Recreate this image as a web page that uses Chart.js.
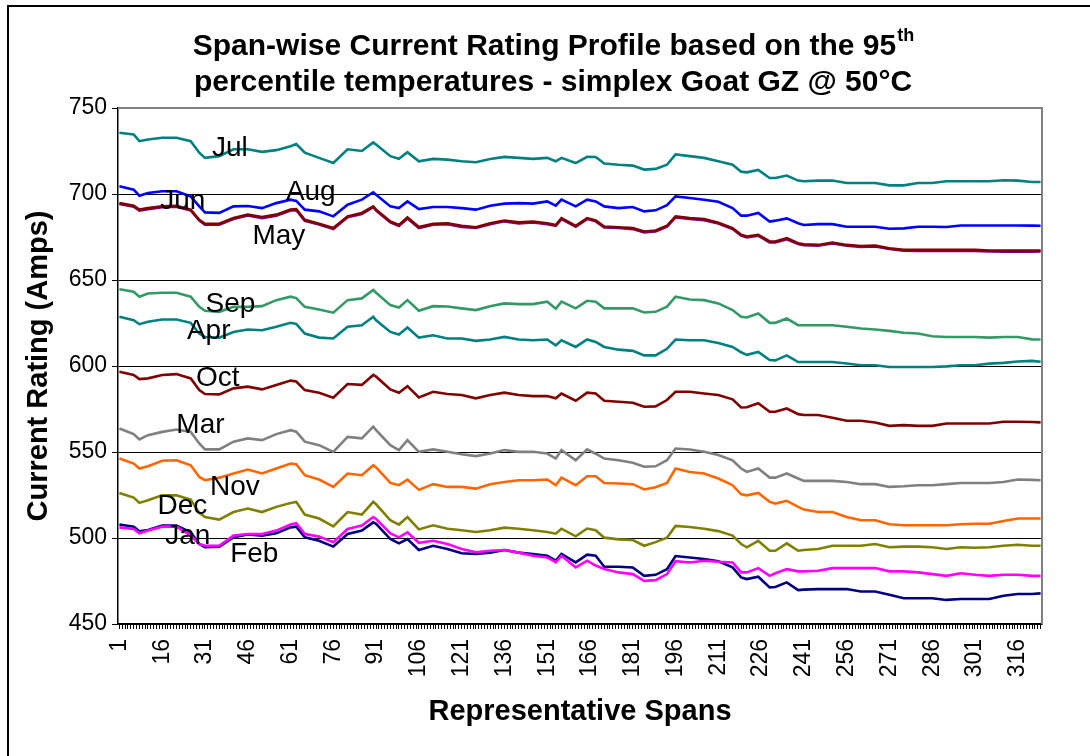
<!DOCTYPE html>
<html>
<head>
<meta charset="utf-8">
<script src="https://cdn.jsdelivr.net/npm/chart.js@4/dist/chart.umd.min.js"></script>
<style>
  html, body { margin: 0; padding: 0; background: #fff; }
  #chart { display: block; }
</style>
</head>
<body>
<canvas id="chart" width="1090" height="756"></canvas>
<script>
// representative span numbers at which values were read
const spans = [
  1, 6, 8, 11, 16, 21, 26, 29, 31, 36, 41,
  46, 51, 56, 61, 63, 66, 71, 76, 81, 86, 90,
  91, 96, 99, 102, 106, 111, 116, 121, 126, 131, 136,
  141, 146, 151, 154, 156, 161, 165, 168, 171, 176, 181,
  185, 189, 193, 196, 201, 206, 211, 216, 219, 221, 225,
  229, 231, 235, 239, 241, 246, 251, 256, 261, 266, 271,
  276, 281, 286, 291, 296, 301, 306, 311, 316, 321, 324
];
const tickLabels = [1, 16, 31, 46, 61, 76, 91, 106, 121, 136, 151, 166, 181, 196, 211, 226, 241, 256, 271, 286, 301, 316];
const yTicks = [450, 500, 550, 600, 650, 700, 750];

const months = ['Jan', 'Feb', 'Mar', 'Apr', 'May', 'Jun', 'Jul', 'Aug', 'Sep', 'Oct', 'Nov', 'Dec'];

const jan = [
  507.8, 506.6, 503.9, 504.7, 507.2, 507.2, 503.3, 496.5, 494.6, 495, 500.4,
  502, 501.4, 502.7, 506.2, 506.6, 500.4, 498.4, 495, 502.3, 504.3, 509.1,
  508.2, 499.4, 496.9, 499.4, 493, 495.5, 493.6, 491.1, 490.7, 491.5, 493,
  491.5, 490.7, 489.7, 486.8, 490.7, 485.8, 490.3, 489.7, 483.3, 483.3, 482.9,
  478, 478.6, 481.9, 489.5, 488.7, 487.8, 486.5, 482.9, 477.1, 476.1, 477.5,
  471.3, 471.5, 474.2, 469.7, 470, 470.3, 470.3, 470.3, 468.9, 468.9, 467,
  465, 465, 465, 464, 464.5, 464.5, 464.5, 466.4, 467.4, 467.4, 467.8
];
const feb = [
  506.2, 505.2, 502.7, 504.3, 506.6, 506.6, 501.4, 496.5, 495.5, 495.5, 501.4,
  502.3, 502.3, 504.3, 507.8, 508.6, 502.3, 500.8, 497.5, 505.2, 507.2, 512.2,
  511.1, 502.7, 500.4, 503.3, 497.2, 498.4, 496.5, 493.6, 491.7, 492.6, 493,
  491.5, 489.7, 488.7, 485.8, 489.7, 482.9, 486.8, 484, 481.9, 480, 479,
  475.1, 475.5, 479, 486.5, 485.8, 486.8, 486.2, 485.8, 480, 480, 482.5,
  478, 479.5, 481.9, 480.6, 480.6, 481, 482.5, 482.5, 482.5, 482.5, 480.6,
  480.6, 480, 479, 478, 479.5, 478.6, 478, 478.6, 478.6, 478, 478
];
const mar = [
  563.7, 560.4, 557.3, 559.8, 561.7, 563.1, 561.7, 555, 551.5, 551.5, 556,
  557.9, 556.9, 560.4, 562.7, 561.8, 556, 554, 550.1, 558.8, 557.9, 564.7,
  562.7, 554, 551.1, 556.9, 550.1, 551.5, 550.1, 548.7, 547.6, 549.1, 551.1,
  550.1, 550.1, 549.1, 546.2, 551.1, 545.2, 551.5, 549, 546.2, 545.2, 543.7,
  541.4, 541.7, 545.2, 552, 551.5, 550.1, 548.2, 545.2, 540.4, 538.4, 540.4,
  535.1, 535.1, 537.5, 534.6, 533.2, 533.2, 533.2, 532.6, 531.3, 531.3, 529.7,
  530.1, 530.7, 530.7, 531.3, 532, 532, 532, 532.6, 534, 533.8, 533.6
];
const apr = [
  628.6, 626.6, 624.3, 625.7, 627, 627, 625.1, 618.9, 616.9, 616.5, 619.8,
  621.2, 620.8, 622.8, 625.1, 624.5, 618.9, 616.5, 616, 622.8, 623.7, 628.6,
  626.6, 619.8, 618.3, 622.4, 616.5, 617.9, 616, 616, 614.6, 615.4, 616.9,
  615.4, 615, 615.4, 612, 615, 611.1, 615.4, 614, 611.1, 609.5, 608.8,
  606.2, 606.2, 610, 615.4, 615, 615, 613.4, 611.1, 608, 606.5, 608.2,
  603.5, 603.3, 606.2, 602.3, 602.3, 602.3, 602.3, 601.5, 600.4, 600.4, 599.4,
  599.4, 599.4, 599.4, 599.8, 600.4, 600.4, 601.4, 601.8, 602.6, 603, 602.5
];
const may = [
  694.2, 692.6, 690.3, 691.2, 692.3, 692.6, 690.4, 684.5, 682.1, 682.2, 685.4,
  687.5, 686, 687.4, 690.4, 690.6, 684.4, 682.2, 679.6, 686.5, 688.4, 692.3,
  690.3, 683.5, 681.4, 685.8, 680.2, 682.1, 682.5, 680.9, 680.2, 682.4, 684.1,
  682.9, 683.5, 682.4, 681.5, 685.4, 681, 685.4, 684.1, 680.5, 680.2, 679.6,
  677.7, 678.2, 681, 686.4, 685.5, 684.8, 682.8, 679.6, 675.8, 674.7, 675.8,
  671.8, 671.9, 673.7, 670.9, 670.2, 669.9, 671.2, 669.9, 669.2, 669.5, 668,
  667, 666.9, 667, 666.9, 667, 666.9, 666.6, 666.5, 666.6, 666.5, 666.6
];
const jun = [
  694.7, 693.2, 690.9, 691.8, 692.8, 693.2, 690.9, 685, 682.7, 682.7, 686,
  688, 686.6, 688, 690.9, 691.2, 685, 682.7, 680.2, 687, 689, 692.8,
  690.9, 684, 682, 686.3, 680.8, 682.7, 683, 681.5, 680.7, 683, 684.6,
  683.5, 684, 683, 682, 686, 681.5, 686, 684.6, 681.1, 680.7, 680.2,
  678.2, 678.8, 681.5, 687, 686, 685.4, 683.3, 680.2, 676.3, 675.3, 676.3,
  672.4, 672.4, 674.3, 671.4, 670.8, 670.4, 671.8, 670.4, 669.8, 670, 668.5,
  667.5, 667.5, 667.5, 667.5, 667.5, 667.5, 667.1, 667.1, 667.1, 667.1, 667.1
];
const jul = [
  735.6, 734.6, 730.7, 731.7, 732.7, 732.7, 730.7, 724, 721, 722, 726,
  726, 724.5, 725.5, 727.8, 729, 724, 721, 718, 726, 725, 730,
  728.8, 722, 720.5, 724.3, 719, 720.4, 720, 719, 718.5, 720.4, 721.6,
  721, 720.4, 721, 719, 721, 718, 721.6, 721.5, 717.7, 717, 716.5,
  714.2, 714.6, 717, 723, 722, 721, 719, 717, 713, 712.6, 714,
  709.3, 709.3, 710.7, 707.8, 707.4, 707.8, 707.8, 706.4, 706.4, 706.4, 705,
  705, 706.4, 706.4, 707.4, 707.4, 707.4, 707.4, 708, 707.8, 707, 707
];
const aug = [
  704.5, 702.5, 699, 700.6, 701.6, 701.6, 698.6, 692.8, 689.3, 689, 692.8,
  693, 691.8, 694.7, 696.7, 696, 690.9, 689.9, 687, 693.8, 696.7, 701,
  699.6, 692.8, 691.8, 695.7, 691.2, 692.4, 692.4, 691.8, 690.9, 693.2, 694.4,
  694.7, 694.4, 695.7, 693.2, 696.7, 692.8, 696.7, 695.7, 692.8, 691.8, 692.4,
  689.9, 690.5, 693.5, 698.6, 697.7, 696.7, 695.5, 691.8, 687.4, 687.4, 689,
  684, 684.5, 685.8, 683, 682, 682.5, 682.5, 681, 681, 681, 679.8,
  680, 681, 681, 680.8, 681.7, 681.7, 681.7, 681.7, 681.7, 681.6, 681.5
];
const sep = [
  644.6, 643.2, 640.3, 642.2, 642.6, 642.6, 640.3, 634.4, 632.1, 631.5, 634.4,
  634.4, 634.8, 638.3, 640.3, 639.5, 634.4, 632.9, 631, 638.3, 639.3, 644.2,
  642.6, 635.4, 634, 638.3, 632.1, 634.8, 634.6, 633.5, 632.5, 634.8, 636.4,
  636, 636, 637.4, 633.3, 637.4, 633.5, 637.9, 637.4, 633.5, 633.5, 633.5,
  631.1, 631.5, 634.5, 640.3, 638.7, 638.3, 636.4, 632.5, 628.6, 628.2, 630.5,
  625.1, 625.1, 627.6, 623.7, 623.7, 623.7, 623.7, 622.8, 621.8, 621.2, 620.4,
  619.3, 618.9, 617.3, 616.9, 616.9, 616.9, 616.5, 616.9, 616.9, 615.5, 615.4
];
const oct = [
  596.7, 594.8, 592.4, 592.8, 594.8, 595.3, 592.8, 586, 583.7, 583.5, 587,
  588, 586.4, 589, 591.5, 591, 586, 584.5, 581.6, 589.5, 589, 594.8,
  593.8, 586.4, 584.5, 588.3, 581.7, 585, 583.7, 583.1, 581.2, 583.1, 584.5,
  583.1, 582.5, 582.5, 581.2, 584, 579.8, 584.5, 584, 579.8, 579.2, 578.6,
  576.3, 576.5, 580.2, 585, 585, 584, 583.1, 580.6, 575.9, 576, 578.3,
  573.4, 573.4, 575.3, 572, 571.5, 571.5, 569.9, 568.2, 568.2, 567.2, 565.2,
  565.6, 565.2, 565.2, 566.6, 566.6, 566.6, 566.6, 567.6, 567.6, 567.4, 567.2
];
const nov = [
  546.2, 543.3, 540.4, 541.7, 544.9, 545.2, 542.3, 535.5, 533.6, 535.1, 537.5,
  539.8, 537.5, 540.4, 543.3, 542.9, 536.5, 534, 529.7, 537.5, 536.5, 542.3,
  541, 532, 530.7, 534, 528, 531.3, 529.7, 529.7, 528.7, 531.3, 532.6,
  533.6, 533.6, 534, 530.7, 535.1, 530.7, 535.9, 535.9, 532, 531.7, 531.3,
  528.2, 529.5, 532, 540.4, 538.4, 537.5, 534.6, 530.7, 525.4, 524.8, 526.2,
  521, 520, 521.6, 518.1, 516.5, 515.1, 515.1, 512.2, 510.3, 510.3, 508,
  507.4, 507.4, 507.4, 507.4, 508, 508.3, 508.3, 509.9, 511.3, 511.3, 511.3
];
const dec = [
  526.2, 523.5, 520.4, 521.9, 524.8, 524.8, 522.3, 514.6, 512.2, 510.7, 515.1,
  517.1, 515.1, 518.1, 520.4, 521, 513.6, 511.3, 506.8, 515.1, 513.6, 521,
  519.6, 510.3, 507.8, 512.2, 505, 507.4, 505.4, 504.5, 503.5, 504.5, 506,
  505.4, 504.5, 503.5, 502.5, 505.4, 501, 505.5, 504.5, 500.2, 499.2, 498.8,
  495.5, 497.6, 500.2, 507, 506.4, 505.4, 504, 501.4, 496.5, 494.6, 498.4,
  492.6, 492.6, 496.9, 492.6, 493, 493.6, 495.5, 495.5, 495.5, 496.5, 494.6,
  495, 495, 494.6, 493.6, 494.6, 494.3, 494.6, 495.5, 496.1, 495.5, 495.5
];

// where each month name sits, in span / amps
const labelSpans  = [25.0, 48.3, 29.4, 32.3, 56.9, 23.2, 39.7, 68.1, 39.9, 35.5, 41.5, 23.1];
const labelValues = [501.2, 490.4, 565.7, 619.9, 675.6, 695.9, 726.7, 701.2, 636.0, 593.0, 529.7, 518.6];

const series = [jan, feb, mar, apr, may, jun, jul, aug, sep, oct, nov, dec];
const colors = ['#000080', '#ff00ff', '#808080', '#008080', '#800080', '#800000',
                '#008080', '#0000ff', '#339966', '#800000', '#ff6600', '#808000'];

const FONT = '"Liberation Sans", Arial, sans-serif';

const allSpans = [];
for (let s = 1; s <= 324; s++) allSpans.push(s);

const chartDecor = {
  id: 'chartDecor',
  afterDraw(chart) {
    const { ctx, chartArea: a, scales: { x, y } } = chart;
    ctx.save();
    // outer frame (left and top only are in view)
    ctx.fillStyle = '#000';
    ctx.fillRect(7, 5, 1083, 2);
    ctx.fillRect(7, 5, 2, 751);

    // plot area border, top and right
    ctx.strokeStyle = '#808080';
    ctx.lineWidth = 2;
    ctx.beginPath();
    ctx.moveTo(a.left, a.top);
    ctx.lineTo(a.right, a.top);
    ctx.lineTo(a.right, a.bottom);
    ctx.stroke();

    // title with superscript
    ctx.fillStyle = '#000';
    ctx.textBaseline = 'middle';
    ctx.textAlign = 'left';
    const line1 = 'Span-wise Current Rating Profile based on the 95';
    const line2 = 'percentile temperatures - simplex Goat GZ @ 50\u00B0C';
    ctx.font = 'bold 30px ' + FONT;
    const w1 = ctx.measureText(line1).width;
    const w2 = ctx.measureText(line2).width;
    ctx.font = 'bold 18px ' + FONT;
    const ws = ctx.measureText('th').width;
    const cx = 553;
    const x1 = cx - (w1 + ws) / 2;
    ctx.font = 'bold 30px ' + FONT;
    ctx.fillText(line1, x1, 47);
    ctx.fillText(line2, cx - w2 / 2, 83);
    ctx.font = 'bold 18px ' + FONT;
    ctx.fillText('th', x1 + w1 + 1, 36);

    // month labels
    ctx.font = '28px ' + FONT;
    ctx.textAlign = 'center';
    months.forEach((m, i) => {
      ctx.fillText(m, x.getPixelForValue(labelSpans[i]), y.getPixelForValue(labelValues[i]));
    });
    ctx.restore();
  }
};

new Chart(document.getElementById('chart'), {
  type: 'line',
  data: {
    datasets: series.map((vals, i) => ({
      label: months[i],
      data: spans.map((s, k) => ({ x: s, y: vals[k] })),
      borderColor: colors[i],
      borderWidth: 2.6,
      pointRadius: 0,
      tension: 0,
      fill: false,
      order: series.length - 1 - i,
    })),
  },
  options: {
    responsive: false,
    animation: false,
    events: [],
    layout: { padding: { left: 0, right: 48, top: 108, bottom: 0 } },
    plugins: {
      legend: { display: false },
      tooltip: { enabled: false },
    },
    scales: {
      x: {
        type: 'linear',
        min: 0.5,
        max: 324.5,
        afterBuildTicks: (s) => { s.ticks = allSpans.map(v => ({ value: v })); },
        afterFit: (s) => { s.height = 132; },
        ticks: {
          autoSkip: false,
          minRotation: 90,
          maxRotation: 90,
          padding: 10,
          color: '#000',
          font: { family: FONT, size: 23 },
          callback: (v) => tickLabels.includes(v) ? String(v) : '',
        },
        grid: { drawOnChartArea: false, drawTicks: true, tickLength: 5, color: '#000', lineWidth: 1 },
        border: { color: '#000', width: 1.5 },
        title: {
          display: true,
          text: 'Representative Spans',
          color: '#000',
          font: { family: FONT, size: 29, weight: 'bold' },
          padding: { top: 0, bottom: 27 },
        },
      },
      y: {
        min: 450,
        max: 750,
        afterBuildTicks: (s) => { s.ticks = yTicks.map(v => ({ value: v })); },
        afterFit: (s) => { s.width = 118; },
        ticks: {
          color: '#000',
          padding: 5,
          font: { family: FONT, size: 23 },
        },
        grid: {
          color: (c) => c.tick && c.tick.value === 750 ? 'rgba(0,0,0,0)' : '#000',
          lineWidth: 1,
          tickLength: 6,
          tickColor: '#000',
        },
        border: { color: '#000', width: 1.5 },
        title: {
          display: true,
          text: 'Current Rating (Amps)',
          color: '#000',
          font: { family: FONT, size: 29, weight: 'bold' },
          padding: { top: 22, bottom: 0 },
        },
      },
    },
  },
  plugins: [chartDecor],
});
</script>
</body>
</html>
